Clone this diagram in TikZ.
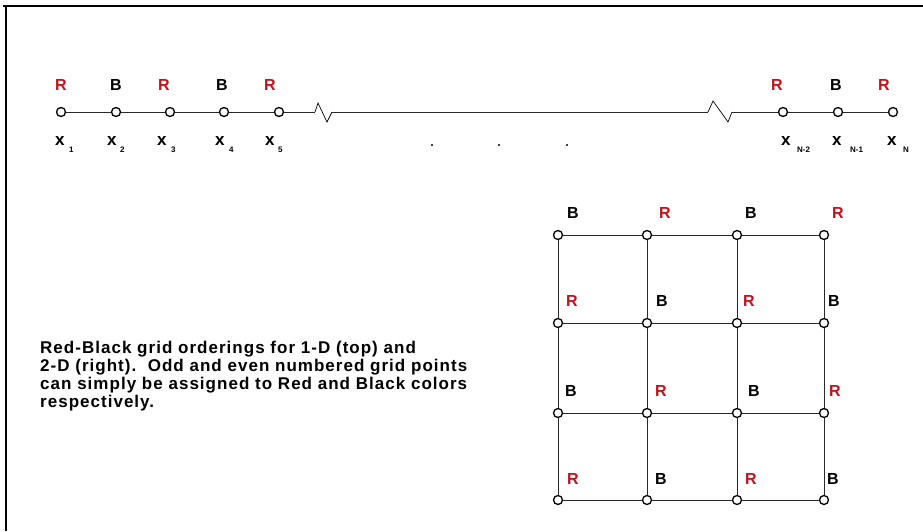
\documentclass[tikz,border=0pt]{standalone}
\usepackage{fontspec}
\setmainfont{Liberation Sans}
\newfontfamily\capfont[LetterSpace=6]{Liberation Sans}
\newfontfamily\labfont[LetterSpace=4]{Liberation Sans}
\definecolor{rbred}{RGB}{192,18,28}
\definecolor{lineg}{RGB}{40,40,40}
\begin{document}
\begin{tikzpicture}[x=1pt,y=-1pt,
  pt/.style={circle,draw=black,line width=1.3pt,minimum size=9pt,inner sep=0pt,fill=none},
  conn/.style={draw=lineg,line width=1pt},
  rlab/.style={text=rbred,font=\labfont\bfseries\fontsize{16}{16}\selectfont,inner sep=0pt},
  blab/.style={text=black,font=\labfont\bfseries\fontsize{16}{16}\selectfont,inner sep=0pt},
  xlab/.style={text=black,font=\bfseries\fontsize{17}{17}\selectfont,inner sep=0pt,anchor=base west},
  sub/.style={text=black,font=\bfseries\fontsize{8}{8}\selectfont,inner sep=0pt,anchor=base west},
  captext/.style={font=\capfont\bfseries\fontsize{17}{18}\selectfont,align=left,anchor=north west,inner sep=0pt}]
\useasboundingbox (0,0) rectangle (923,531);
% frame
\draw[line width=1.5pt] (3,6) -- (923,6);
\draw[line width=1.5pt] (6,6) -- (6,531);

% 1-D line points
\foreach \n/\x in {1/61,2/116,3/170,4/224,5/279}{
  \node[pt] (p\n) at (\x,112) {};
}
\foreach \n/\x in {1/783,2/838,3/893}{
  \node[pt] (q\n) at (\x,112) {};
}
\coordinate (za) at (315,112);
\coordinate (zb) at (332,112);
\coordinate (zc) at (708,112);
\coordinate (zd) at (732,112);
\draw[conn] (p1) -- (p2);
\draw[conn] (p2) -- (p3);
\draw[conn] (p3) -- (p4);
\draw[conn] (p4) -- (p5);
\draw[conn] (p5) -- (za);
\draw[line width=0.7pt] (za) -- (318,103) -- (327,122) -- (zb);
\draw[conn] (zb) -- (zc);
\draw[line width=0.7pt] (zc) -- (713,101) -- (728,122) -- (zd);
\draw[conn] (zd) -- (q1);
\draw[conn] (q1) -- (q2);
\draw[conn] (q2) -- (q3);

% 1-D labels
\node[rlab] (l1) at (61,85) {R};
\node[blab] (l2) at (116,85) {B};
\node[rlab] (l3) at (164,85) {R};
\node[blab] (l4) at (222,85) {B};
\node[rlab] (l5) at (270,85) {R};
\node[rlab] (m1) at (777,85) {R};
\node[blab] (m2) at (836,85) {B};
\node[rlab] (m3) at (884,85) {R};

% x labels
\node[xlab] (x1) at (55,145) {x};  \node[sub] (s1) at (69,152) {1};
\node[xlab] (x2) at (107,145) {x}; \node[sub] (s2) at (120,152) {2};
\node[xlab] (x3) at (157,145) {x}; \node[sub] (s3) at (171,152) {3};
\node[xlab] (x4) at (215,145) {x}; \node[sub] (s4) at (229,152) {4};
\node[xlab] (x5) at (265,145) {x}; \node[sub] (s5) at (278,152) {5};
\node[xlab] (x6) at (781,145) {x}; \node[sub] (s6) at (797,152) {N-2};
\node[xlab] (x7) at (832,145) {x}; \node[sub] (s7) at (850,152) {N-1};
\node[xlab] (x8) at (887,145) {x}; \node[sub] (s8) at (903,152) {N};

% dots
\fill (432,145) circle (1.2pt);
\fill (499,145) circle (1.2pt);
\fill (567,145) circle (1.2pt);

% 2-D grid
\foreach \i/\x in {1/558,2/647,3/737,4/824}{
  \foreach \j/\y in {1/235,2/323,3/413,4/500}{
    \node[pt] (g\i\j) at (\x,\y) {};
  }
}
\foreach \j in {1,2,3,4}{
  \draw[conn] (g1\j) -- (g2\j);
  \draw[conn] (g2\j) -- (g3\j);
  \draw[conn] (g3\j) -- (g4\j);
}
\foreach \i in {1,2,3,4}{
  \draw[conn] (g\i1) -- (g\i2);
  \draw[conn] (g\i2) -- (g\i3);
  \draw[conn] (g\i3) -- (g\i4);
}

% grid labels
\node[blab] (a11) at (573,213) {B};
\node[rlab] (a21) at (665,213) {R};
\node[blab] (a31) at (751,213) {B};
\node[rlab] (a41) at (838,213) {R};
\node[rlab] (a12) at (572,301) {R};
\node[blab] (a22) at (662,301) {B};
\node[rlab] (a32) at (749,301) {R};
\node[blab] (a42) at (834,301) {B};
\node[blab] (a13) at (571,391) {B};
\node[rlab] (a23) at (661,391) {R};
\node[blab] (a33) at (754,391) {B};
\node[rlab] (a43) at (835,391) {R};
\node[rlab] (a14) at (573,479) {R};
\node[blab] (a24) at (661,479) {B};
\node[rlab] (a34) at (751,479) {R};
\node[blab] (a44) at (833,479) {B};

% caption
\node[captext] (caption) at (40,341) {Red-Black grid orderings for 1-D (top) and\\
2-D (right).\ \ Odd and even numbered grid points\\
can simply be assigned to Red and Black colors\\
respectively.};
\end{tikzpicture}
\end{document}
